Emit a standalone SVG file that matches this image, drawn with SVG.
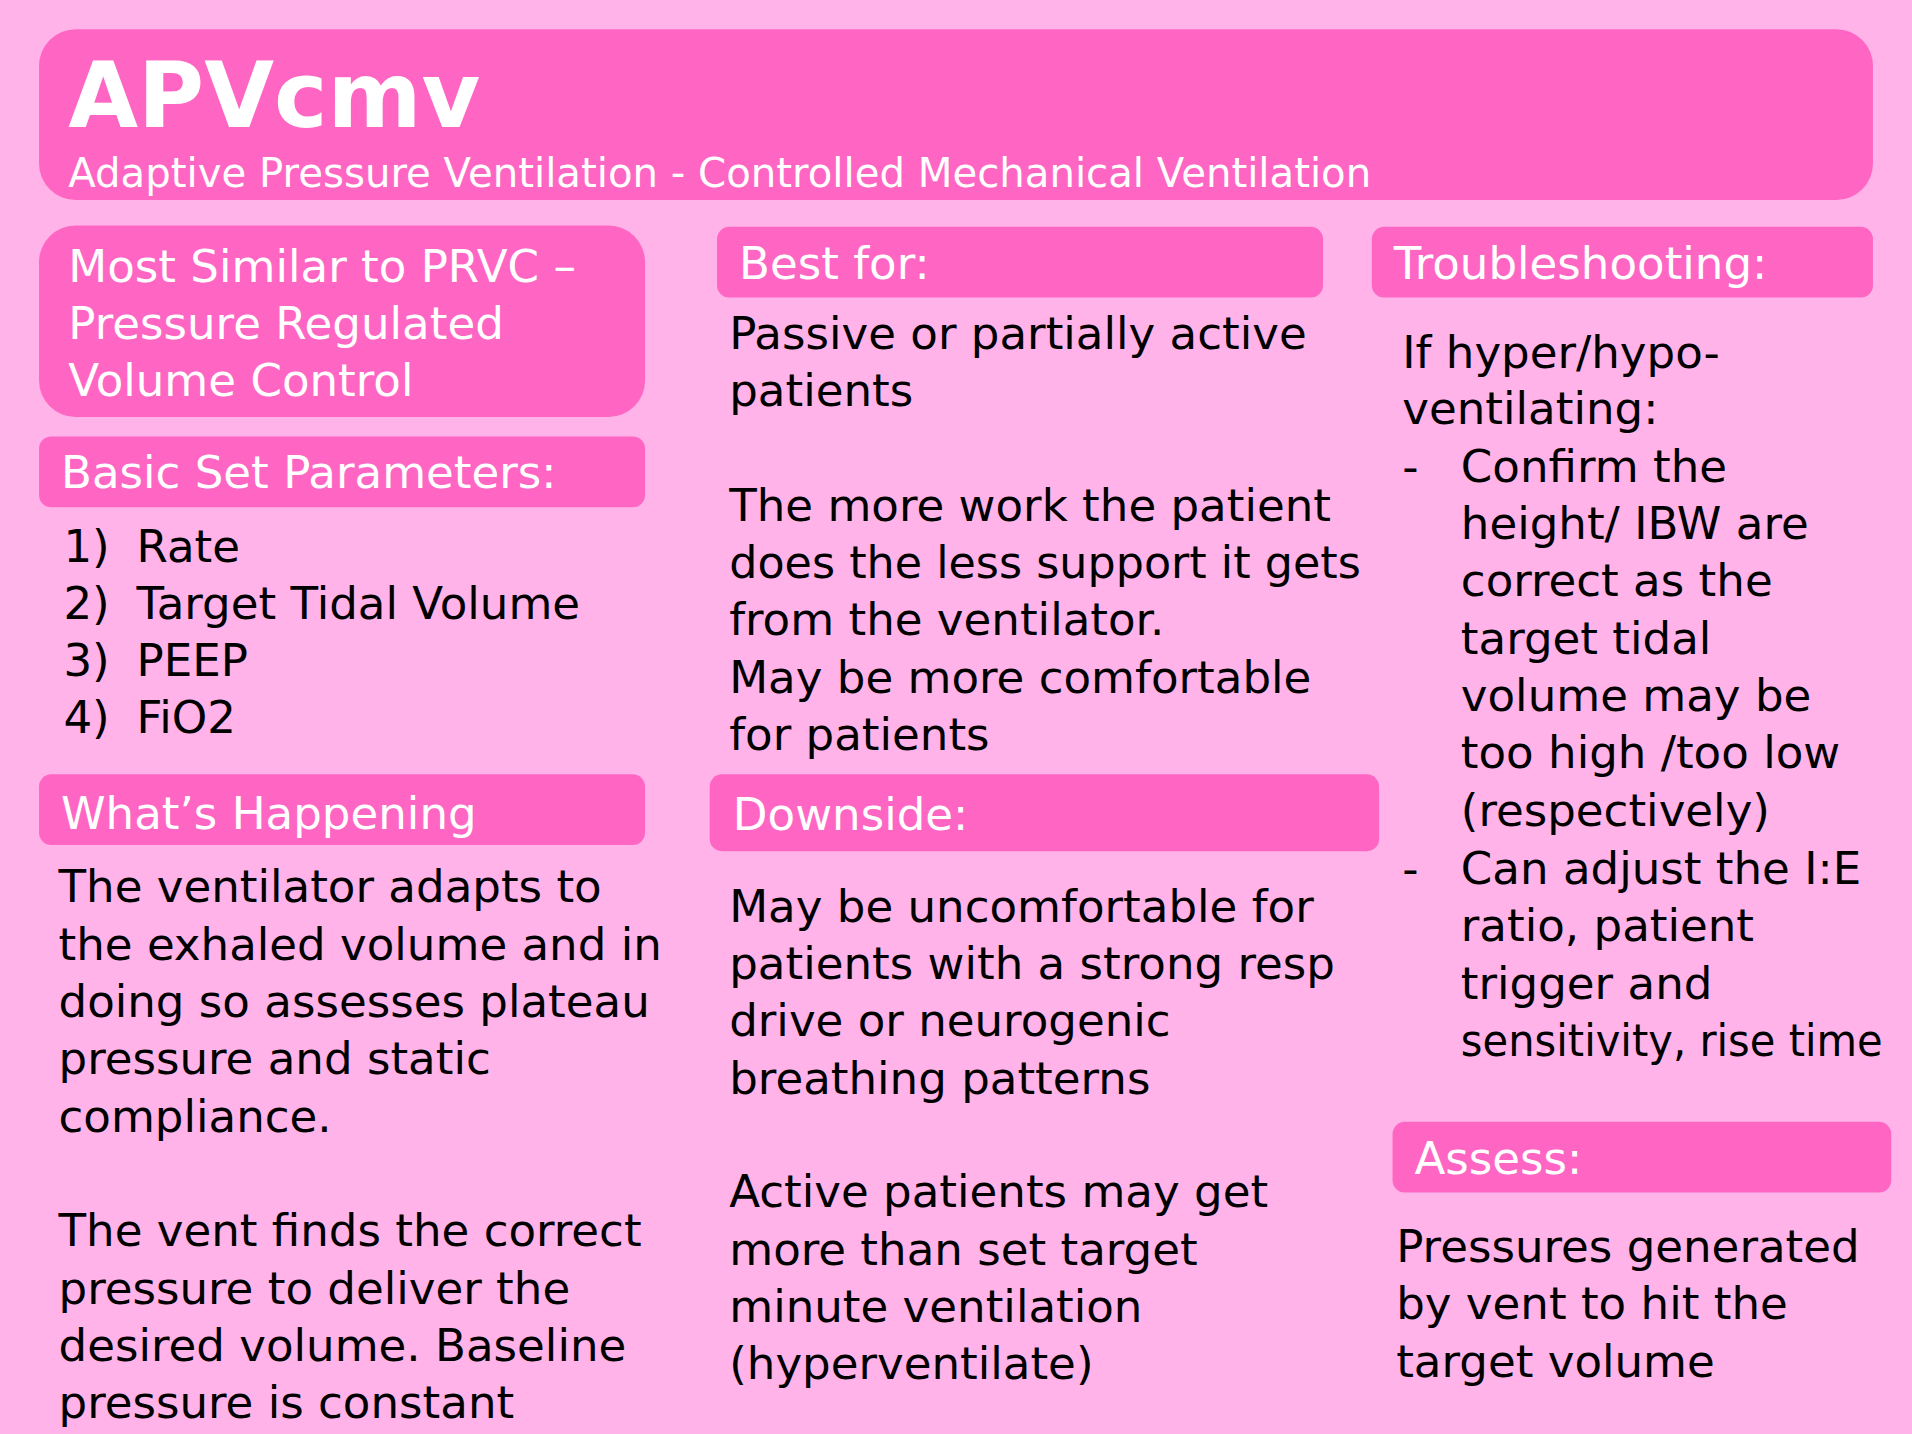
<svg xmlns="http://www.w3.org/2000/svg" width="1912" height="1434" viewBox="0 0 1912 1434">
<style>
.b{fill:#ff66c4}
.h{fill:#fff;font-family:"DejaVu Sans",sans-serif;font-size:37px}
.t{fill:#000;font-family:"DejaVu Sans",sans-serif;font-size:37px}
</style>
<rect width="1912" height="1434" fill="#ffb3e8"/>
<g transform="scale(1.21939)">
<g id="title"><rect class="b" x="32" y="24" width="1504" height="140" rx="30"/>
<text x="56" y="104" fill="#fff" font-family="DejaVu Sans,sans-serif" font-weight="bold" font-size="74">APVcmv</text>
<text x="56" y="153" class="h" style="font-size:33px">Adaptive Pressure Ventilation - Controlled Mechanical Ventilation</text></g>
<g id="similar"><rect class="b" x="32" y="185" width="497" height="157" rx="30"/>
<text class="h" x="56" y="231">Most Similar to PRVC –</text><text class="h" x="56" y="278">Pressure Regulated</text><text class="h" x="56" y="325">Volume Control</text></g>
<g id="params"><rect class="b" x="32" y="358" width="497" height="58" rx="10"/>
<text class="h" x="50" y="400">Basic Set Parameters:</text>
<text class="t" x="52" y="461">1)</text><text class="t" x="112" y="461">Rate</text>
<text class="t" x="52" y="508">2)</text><text class="t" x="112" y="508">Target Tidal Volume</text>
<text class="t" x="52" y="554">3)</text><text class="t" x="112" y="554">PEEP</text>
<text class="t" x="52" y="601">4)</text><text class="t" x="112" y="601">FiO2</text></g>
<g id="happening"><rect class="b" x="32" y="635" width="497" height="58" rx="10"/>
<text class="h" x="50" y="680">What’s Happening</text>
<text class="t" x="48" y="740">The ventilator adapts to</text>
<text class="t" x="48" y="787">the exhaled volume and in</text>
<text class="t" x="48" y="834">doing so assesses plateau</text>
<text class="t" x="48" y="881">pressure and static</text>
<text class="t" x="48" y="928">compliance.</text>
<text class="t" x="48" y="1022">The vent finds the correct</text>
<text class="t" x="48" y="1069">pressure to deliver the</text>
<text class="t" x="48" y="1116">desired volume. Baseline</text>
<text class="t" x="48" y="1163">pressure is constant</text></g>
<g id="best"><rect class="b" x="588" y="186" width="497" height="58" rx="10"/>
<text class="h" x="606" y="229">Best for:</text>
<text class="t" x="598" y="286">Passive or partially active</text>
<text class="t" x="598" y="333">patients</text>
<text class="t" x="598" y="427">The more work the patient</text>
<text class="t" x="598" y="474" textLength="518" lengthAdjust="spacingAndGlyphs">does the less support it gets</text>
<text class="t" x="598" y="521">from the ventilator.</text>
<text class="t" x="598" y="568">May be more comfortable</text>
<text class="t" x="598" y="615">for patients</text></g>
<g id="downside"><rect class="b" x="582" y="635" width="549" height="63" rx="10"/>
<text class="h" x="601" y="681">Downside:</text>
<text class="t" x="598" y="756">May be uncomfortable for</text>
<text class="t" x="598" y="803">patients with a strong resp</text>
<text class="t" x="598" y="850">drive or neurogenic</text>
<text class="t" x="598" y="897">breathing patterns</text>
<text class="t" x="598" y="990">Active patients may get</text>
<text class="t" x="598" y="1037">more than set target</text>
<text class="t" x="598" y="1084">minute ventilation</text>
<text class="t" x="598" y="1131">(hyperventilate)</text></g>
<g id="trouble"><rect class="b" x="1125" y="186" width="411" height="58" rx="10"/>
<text class="h" x="1143" y="229">Troubleshooting:</text>
<text class="t" x="1150" y="302">If hyper/hypo-</text>
<text class="t" x="1150" y="348">ventilating:</text>
<text class="t" x="1150" y="395">-</text><text class="t" x="1198" y="395">Confirm the</text>
<text class="t" x="1198" y="442">height/ IBW are</text>
<text class="t" x="1198" y="489">correct as the</text>
<text class="t" x="1198" y="536">target tidal</text>
<text class="t" x="1198" y="583">volume may be</text>
<text class="t" x="1198" y="630">too high /too low</text>
<text class="t" x="1198" y="677">(respectively)</text>
<text class="t" x="1150" y="725">-</text><text class="t" x="1198" y="725">Can adjust the I:E</text>
<text class="t" x="1198" y="772">ratio, patient</text>
<text class="t" x="1198" y="819">trigger and</text>
<text class="t" x="1198" y="866" textLength="346" lengthAdjust="spacingAndGlyphs">sensitivity, rise time</text></g>
<g id="assess"><rect class="b" x="1142" y="920" width="409" height="58" rx="10"/>
<text class="h" x="1160" y="963">Assess:</text>
<text class="t" x="1145" y="1035">Pressures generated</text>
<text class="t" x="1145" y="1082">by vent to hit the</text>
<text class="t" x="1145" y="1129">target volume</text></g>
<g id="connectors"/>
</g>
</svg>
